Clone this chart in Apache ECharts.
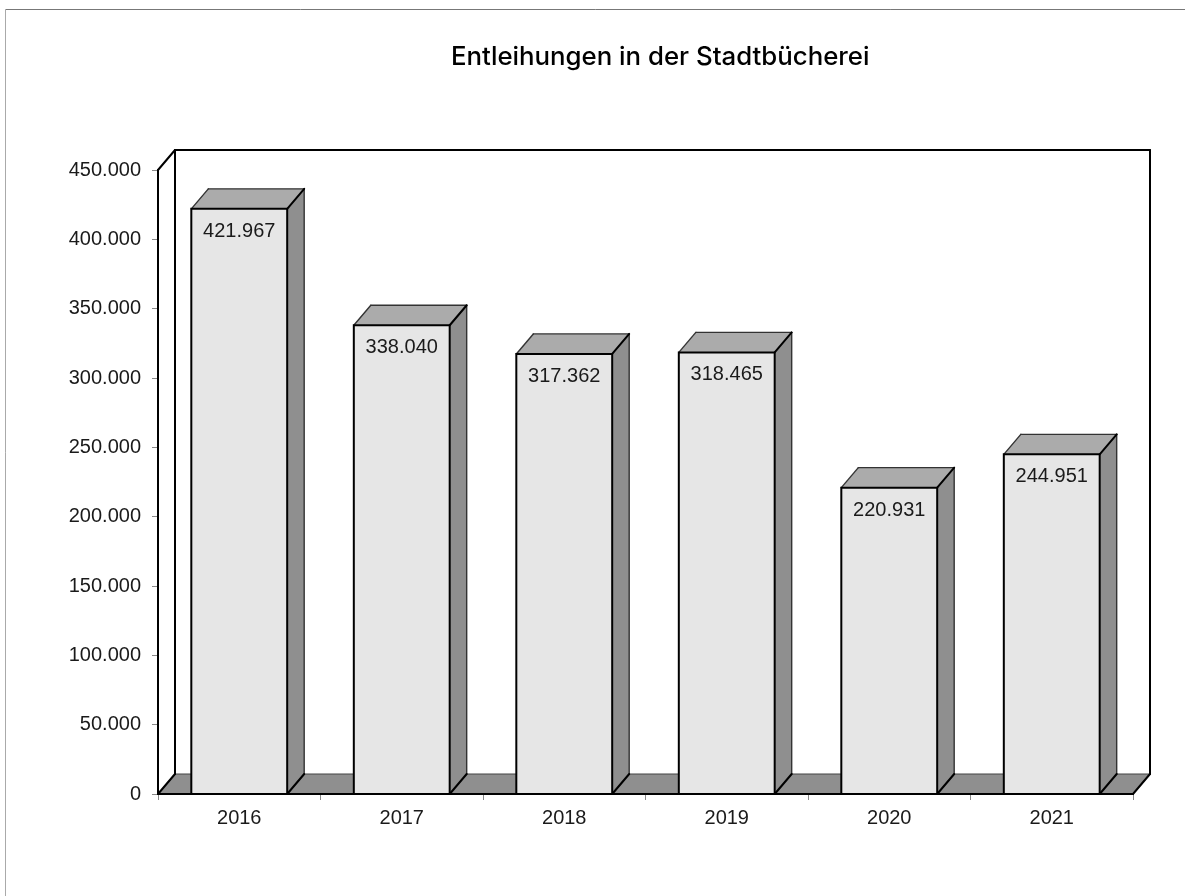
<!DOCTYPE html>
<html><head><meta charset="utf-8">
<style>html,body{margin:0;padding:0;background:#fff;overflow:hidden}#c{width:1185px;height:896px}</style>
<script src="https://cdn.jsdelivr.net/npm/echarts@6/dist/echarts.min.js"></script>
</head><body><div id="c"></div>
<script>
const titleText = 'Entleihungen in der Stadtbücherei';
const categories = ['2016','2017','2018','2019','2020','2021'];
const values = [421967,338040,317362,318465,220931,244951];
const axisMax = 450000, axisStep = 50000;
const DX = 17, DY = -20, BAR_RATIO = 0.59;
const FRONT='#e6e6e6', TOP='#ababab', SIDE='#8f8f8f', INK='#000', SOFT='#333';
const FONT='"Liberation Sans"';
const fmt = v => String(v).replace(/\B(?=(\d{3})+$)/g,'.');
const chart = echarts.init(document.getElementById('c'),null,{renderer:'canvas'});

function poly(points,fill,stroke,w){
  return {type:'polygon',shape:{points},style:{fill,stroke:stroke||'none',lineWidth:w||0,lineJoin:'round'}};
}
function seg(a,b,stroke,w){
  return {type:'line',shape:{x1:a[0],y1:a[1],x2:b[0],y2:b[1]},style:{stroke,lineWidth:w,lineCap:'round'}};
}
function renderRoom(params,api){
  const cs=params.coordSys, l=cs.x, r=cs.x+cs.width, t=cs.y, b=cs.y+cs.height;
  return {type:'group',children:[
    poly([[l,b],[l+DX,b+DY],[r+DX,b+DY],[r,b]],SIDE),
    seg([l+DX,b+DY],[r+DX,b+DY],'#444',1.2),
    seg([l,t],[l,b],INK,2),
    seg([l,t],[l+DX,t+DY],INK,2),
    seg([l+DX,t+DY],[l+DX,b+DY],INK,2),
    seg([l+DX,t+DY],[r+DX,t+DY],INK,2),
    seg([r+DX,t+DY],[r+DX,b+DY],INK,2),
    seg([l,b],[l+DX,b+DY],INK,2),
    seg([r,b],[r+DX,b+DY],INK,2),
    seg([l,b],[r,b],INK,2)
  ]};
}
function renderBar(params,api){
  const i=api.value(0), v=api.value(1);
  const w=api.size([1,0])[0]*BAR_RATIO;
  const top=api.coord([i,v]), base=api.coord([i,0]);
  const x0=top[0]-w/2, x1=top[0]+w/2, yt=top[1], yb=base[1];
  return {type:'group',children:[
    poly([[x1,yb],[x1+DX,yb+DY],[x1+DX,yt+DY],[x1,yt]],SIDE),
    poly([[x0,yt],[x0+DX,yt+DY],[x1+DX,yt+DY],[x1,yt]],TOP),
    seg([x0,yt],[x0+DX,yt+DY],SOFT,1.4),
    seg([x0+DX,yt+DY],[x1+DX,yt+DY],SOFT,1.4),
    seg([x1+DX,yt+DY],[x1+DX,yb+DY],SOFT,1.4),
    seg([x1,yb],[x1+DX,yb+DY],INK,2),
    seg([x1,yt],[x1+DX,yt+DY],INK,2),
    {type:'rect',shape:{x:x0,y:yt,width:w,height:yb-yt},style:{fill:FRONT,stroke:INK,lineWidth:2}},
    {type:'text',x:top[0],y:yt+22.5,style:{text:fmt(v),fill:'#1a1a1a',font:'20px '+FONT,align:'center',verticalAlign:'middle'}}
  ]};
}
chart.setOption({
  animation:false,
  backgroundColor:'#fff',
  title:{text:titleText,left:446,top:39,textStyle:{fontFamily:'Inter',fontSize:25.8,fontWeight:500,color:'#000'}},
  grid:{left:158,right:52,top:170,bottom:102,containLabel:false},
  xAxis:{type:'category',data:categories,boundaryGap:true,
    axisLine:{show:false},
    axisTick:{show:true,alignWithLabel:false,length:6,lineStyle:{color:'#888',width:1}},
    axisLabel:{fontFamily:FONT,fontSize:20,color:'#1a1a1a',margin:14},splitLine:{show:false}},
  yAxis:{type:'value',min:0,max:axisMax,interval:axisStep,
    axisLine:{show:false},
    axisTick:{show:true,length:6,lineStyle:{color:'#888',width:1}},
    axisLabel:{fontFamily:FONT,fontSize:20,color:'#1a1a1a',margin:17,padding:[8,0,0,0],formatter:fmt},splitLine:{show:false}},
  graphic:[
    {type:'line',silent:true,shape:{x1:5.5,y1:9.5,x2:1185,y2:9.5},style:{stroke:'#777',lineWidth:1}},
    {type:'line',silent:true,shape:{x1:5.5,y1:9.5,x2:5.5,y2:896},style:{stroke:'#aaa',lineWidth:1}}
  ],
  series:[
    {type:'custom',z:1,coordinateSystem:'cartesian2d',renderItem:renderRoom,data:[[0,0]],silent:true,clip:false},
    {type:'custom',z:2,coordinateSystem:'cartesian2d',renderItem:renderBar,
     data:categories.map((c,i)=>[i,values[i]]),encode:{x:0,y:1},silent:true,clip:false}
  ]
});
</script></body></html>
